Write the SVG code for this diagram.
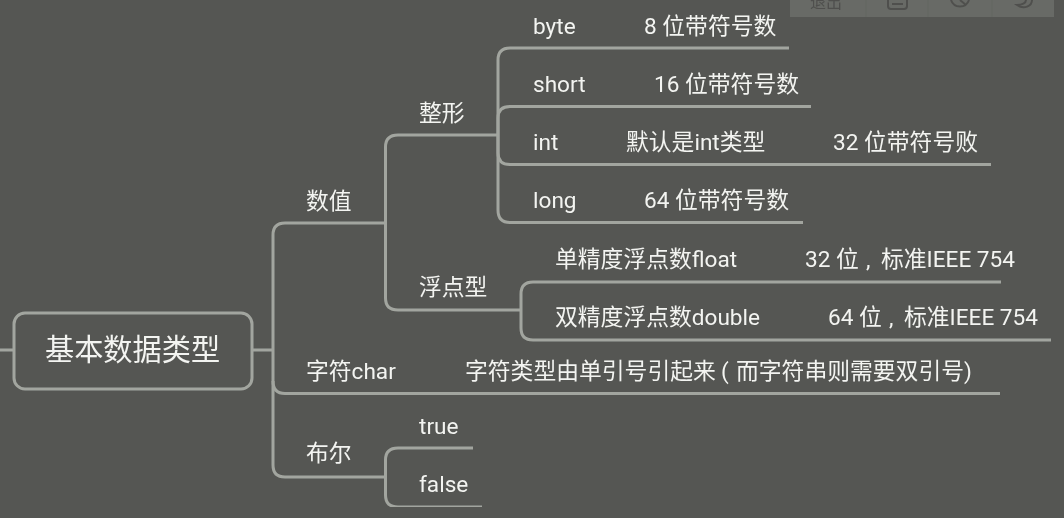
<svg xmlns="http://www.w3.org/2000/svg" width="1064" height="518" viewBox="0 0 1064 518">
<style>
text{font-family:"Roboto","Noto Sans CJK SC",sans-serif;fill:#f3f4f1;font-size:22.600px;font-weight:400}
.k{font-size:22.800px}
.c path,rect.c{fill:none;stroke:#a2a59f;stroke-width:3}
.t{fill:none;stroke:#4f504d;stroke-width:2}
</style>
<defs><filter id="soft" x="0" y="0" width="1" height="1"><feGaussianBlur stdDeviation="0.35"/></filter></defs>
<rect width="1064" height="518" fill="#555653"/>
<g filter="url(#soft)">
<g id="toolbar">
<rect x="790" y="-2" width="264" height="19" fill="#686a66"/>
<path d="M866 0V17M928 0V17M992 0V17" fill="none" stroke="#636561"/>
<text x="810" y="8" style="font-size:16px;fill:#4f504d">退出</text>
<path class="t" d="M888 0V6Q888 9 891 9H904Q907 9 907 6V0M892 4H903"/>
<path class="t" d="M951 0a9.500 9.500 0 0 0 18 0M960 0l6 5"/>
<path class="t" d="M1026 0c0 3-4 5-9 5 7 5 15 1 15-5"/>
</g>
<g class="c" id="connectors">
<path d="M0 350H14M253 350H273"/>
<path d="M385 223H285Q273 223 273 235V465Q273 477 285 477H385"/>
<path d="M273 381Q273 393.500 285 393.500H1000"/>
<path d="M498 135H398Q385.500 135 385.500 147V298Q385.500 310 398 310H521"/>
<path d="M789 48H510Q498 48 498 60V210Q498 222.500 510 222.500H803"/>
<path d="M811 106.500H510Q498 106.500 498 118V153Q498 164.500 510 164.500H991"/>
<path d="M1001 282H533Q521 282 521 294V328Q521 340 533 340H1051"/>
<path d="M473 448H398Q385.500 448 385.500 460V495Q385.500 507 398 507H482"/>
</g>
<g id="root"><rect class="c" x="14" y="313" width="238" height="76" rx="11"/><text x="45" y="360" class="k" style="font-size:29.200px">基本数据类型</text></g>
<g id="n-shuzhi"><text x="306" y="209" class="k">数值</text></g>
<g id="n-zhengxing"><text x="419" y="121" class="k">整形</text></g>
<g id="n-byte"><text x="533" y="34">byte</text><text x="644" y="34">8 <tspan class="k">位带符号数</tspan></text></g>
<g id="n-short"><text x="533" y="92">short</text><text x="654" y="92">16 <tspan class="k">位带符号数</tspan></text></g>
<g id="n-int"><text x="533" y="150">int</text><text x="626" y="150"><tspan class="k">默认是</tspan>int<tspan class="k">类型</tspan></text><text x="833" y="150">32 <tspan class="k">位带符号败</tspan></text></g>
<g id="n-long"><text x="533" y="208">long</text><text x="644" y="208">64 <tspan class="k">位带符号数</tspan></text></g>
<g id="n-fudian"><text x="419" y="295" class="k">浮点型</text></g>
<g id="n-float"><text x="555" y="267"><tspan class="k">单精度浮点数</tspan>float</text><text x="805" y="267">32 <tspan class="k">位</tspan><tspan x="866">,</tspan><tspan class="k" x="881">标准</tspan>IEEE 754</text></g>
<g id="n-double"><text x="555" y="325"><tspan class="k">双精度浮点数</tspan>double</text><text x="828" y="325">64 <tspan class="k">位</tspan><tspan x="889">,</tspan><tspan class="k" x="904">标准</tspan>IEEE 754</text></g>
<g id="n-char"><text x="306" y="379"><tspan class="k">字符</tspan>char</text><text x="465" y="379"><tspan class="k">字符类型由单引号引起来</tspan><tspan x="721">(</tspan><tspan class="k" x="736">而字符串则需要双引号</tspan><tspan x="964">)</tspan></text></g>
<g id="n-bool"><text x="306" y="461" class="k">布尔</text></g>
<g id="n-true"><text x="419" y="434">true</text></g>
<g id="n-false"><text x="419" y="492">false</text></g>
</g>
</svg>
